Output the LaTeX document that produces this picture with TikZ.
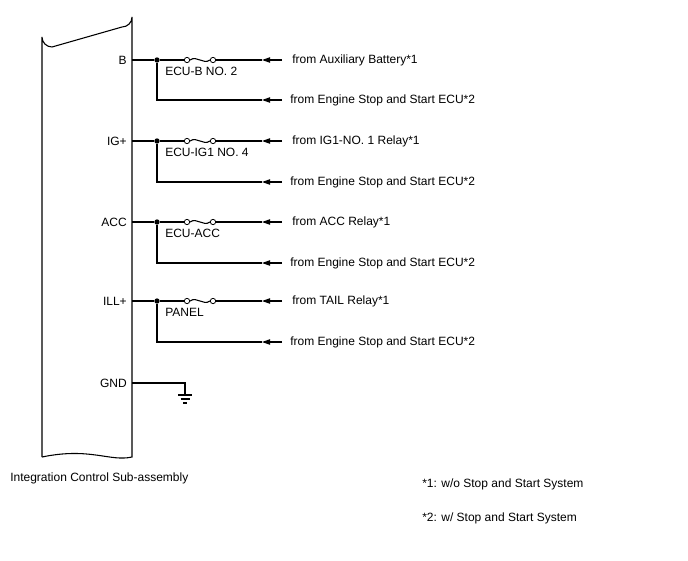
\documentclass[tikz,border=0pt]{standalone}
\usepackage{fontspec}
\setmainfont{Liberation Sans}
\usetikzlibrary{arrows.meta}
\begin{document}
\begin{tikzpicture}[x=0.75pt,y=-0.75pt,
  wire/.style={line width=0.8pt},
  lbl/.style={font=\fontsize{9}{11}\selectfont,inner sep=0pt},
  arr/.style={wire,-{Triangle[length=6pt,width=4pt]}},
  dot/.style={circle,fill,inner sep=0pt,minimum size=4pt}]
\useasboundingbox (0,0) rectangle (688,560);
% unit body
\draw[wire] (42,457) -- (42,37) arc[start angle=180,end angle=90,radius=10] -- (122,27) arc[start angle=90,end angle=0,radius=10] -- (132,457)
  .. controls (110,462) and (90,447) .. (42,457);
\node[lbl,anchor=west] (unit) at (10,478) {Integration Control Sub-assembly};
\foreach \n/\t/\y/\yb/\f/\src in {b/B/60/100/ECU-B NO. 2/from Auxiliary Battery*1,
  ig/IG+/141/182/ECU-IG1 NO. 4/from IG1-NO. 1 Relay*1,
  acc/ACC/222/263/ECU-ACC/from ACC Relay*1,
  ill/ILL+/301/342/PANEL/from TAIL Relay*1}{
  \node[lbl,anchor=east] (\n pin) at (127,\y) {\t};
  \coordinate (\n p) at (132,\y);
  \node[dot] (\n j) at (157,\y) {};
  \node[circle,draw,inner sep=0pt,minimum size=4pt,line width=0.6pt] (\n f1) at (187,\y) {};
  \node[circle,draw,inner sep=0pt,minimum size=4pt,line width=0.6pt] (\n f2) at (213,\y) {};
  \node[lbl,anchor=north west] (\n fl) at (165,\y+7) {\f};
  \node[lbl,anchor=west] (\n s1) at (292,\y) {\src};
  \node[lbl,anchor=west] (\n s2) at (290,\yb) {from Engine Stop and Start ECU*2};
  \coordinate (\n e1) at (282,\y); \coordinate (\n a1) at (262,\y);
  \coordinate (\n e2) at (282,\yb); \coordinate (\n a2) at (262,\yb);
  \coordinate (\n c) at (157,\yb);
  \draw[wire] (\n p) -- (\n j) -- (\n f1);
  \draw[wire] (\n f1.east) .. controls (197,\y-5) and (203,\y+5) .. (\n f2.west);
  \draw[wire] (\n f2) -- (\n a1);
  \draw[arr] (\n e1) -- (\n a1);
  \draw[wire] (\n j) -- (\n c) -- (\n a2);
  \draw[arr] (\n e2) -- (\n a2);
}
\node[lbl,anchor=east] (gnd) at (127,383) {GND};
\coordinate (gp) at (132,383); \coordinate (gc) at (185,383); \coordinate (gg) at (185,395);
\draw[wire] (gp) -- (gc) -- (gg);
\draw[wire] (178,395) -- (192,395) (180.5,399) -- (189.5,399) (183,403) -- (187,403);
\node[lbl,anchor=west] (n1) at (422,484) {*1: w/o Stop and Start System};
\node[lbl,anchor=west] (n2) at (422,518) {*2: w/ Stop and Start System};
\end{tikzpicture}
\end{document}
